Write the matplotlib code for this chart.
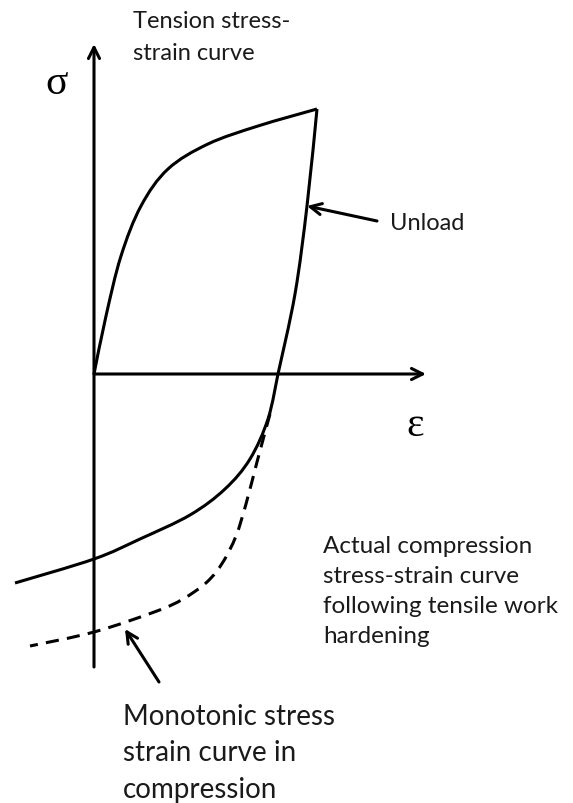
import matplotlib

matplotlib.use('Agg')
import matplotlib.pyplot as plt
from matplotlib.path import Path
from matplotlib.patches import PathPatch

# strain / stress values (arbitrary units, origin at the axes cross)
tension_strain = [0, 12, 27, 47, 74, 114, 164, 223]
tension_stress = [0, 58, 118, 168, 205, 230, 248, 265]

unload_strain = [223, 213, 201, 184]
unload_stress = [265, 168, 80, 0]

actual_comp_strain = [184, 174, 156, 131, 96, 46, 0, -79]
actual_comp_stress = [0, -45, -85, -115, -141, -165, -185, -209]

mono_comp_strain = [176, 163, 152, 142, 129, 113, 89, 63, 0, -64]
mono_comp_stress = [-40, -88, -130, -162, -188, -208, -225, -237, -258, -272]

axis_strain = [0, 332]
axis_stress = [-293, 330]


def smooth_path(xs, ys):
    # Catmull-Rom through the read points, drawn as cubic Bezier segments
    pts = list(zip(xs, ys))
    verts = [pts[0]]
    codes = [Path.MOVETO]
    n = len(pts)
    for i in range(n - 1):
        p0 = pts[max(i - 1, 0)]
        p1 = pts[i]
        p2 = pts[i + 1]
        p3 = pts[min(i + 2, n - 1)]
        c1 = (p1[0] + (p2[0] - p0[0]) / 6, p1[1] + (p2[1] - p0[1]) / 6)
        c2 = (p2[0] - (p3[0] - p1[0]) / 6, p2[1] - (p3[1] - p1[1]) / 6)
        verts += [c1, c2, p2]
        codes += [Path.CURVE4] * 3
    return Path(verts, codes)


fig = plt.figure(figsize=(5.73, 8.04), dpi=100)
ax = fig.add_axes([0, 0, 1, 1])
ax.set_xlim(-94, 479)
ax.set_ylim(-429, 375)
ax.axis('off')

lw = 2.2
font = ['Lato', 'DejaVu Sans']
txt_color = '#1a1a1a'

# axes with arrow heads
arrow_kw = dict(arrowstyle='->', lw=lw, color='black', mutation_scale=20, shrinkA=0, shrinkB=0)
ax.annotate('', xy=(0, axis_stress[1]), xytext=(0, axis_stress[0]), arrowprops=arrow_kw)
ax.annotate('', xy=(axis_strain[1], 0), xytext=(axis_strain[0], 0), arrowprops=arrow_kw)

# curves
ax.add_patch(PathPatch(smooth_path(tension_strain, tension_stress), fill=False, lw=lw, ec='black'))
ax.add_patch(PathPatch(smooth_path(unload_strain, unload_stress), fill=False, lw=lw, ec='black'))
ax.add_patch(PathPatch(smooth_path(actual_comp_strain, actual_comp_stress), fill=False, lw=lw,
                       ec='black', capstyle='butt'))
ax.add_patch(PathPatch(smooth_path(mono_comp_strain, mono_comp_stress), fill=False, lw=lw,
                       ec='black', linestyle=(0, (4.3, 2.7))))

# pointer arrows
ptr_kw = dict(arrowstyle='->', lw=lw, color='black', mutation_scale=20, shrinkA=0, shrinkB=0)
ax.annotate('', xy=(213, 168), xytext=(283, 153), arrowprops=ptr_kw)
ax.annotate('', xy=(31, -255), xytext=(65, -308), arrowprops=ptr_kw)

# labels
ax.text(-37, 291, 'σ', fontsize=30, family='Liberation Serif', ha='center', va='center')
ax.text(321, -51, 'ε', fontsize=30, family='Liberation Serif', ha='center', va='center')

ax.text(39, 347, 'Tension stress-', fontsize=17, family=font, ha='left', va='baseline', color=txt_color)
ax.text(39, 315, 'strain curve', fontsize=17, family=font, ha='left', va='baseline', color=txt_color)

ax.text(296, 145, 'Unload', fontsize=17, family=font, ha='left', va='baseline', color=txt_color)

actual_lines = ['Actual compression', 'stress-strain curve', 'following tensile work', 'hardening']
for i, line in enumerate(actual_lines):
    ax.text(229, -178 - 30 * i, line, fontsize=17.5, family=font, ha='left', va='baseline',
            color=txt_color)

mono_lines = ['Monotonic stress', 'strain curve in', 'compression']
for i, line in enumerate(mono_lines):
    ax.text(29, -350 - 36.5 * i, line, fontsize=20, family=font, ha='left', va='baseline',
            color=txt_color)

fig.savefig('out.png', dpi=100)
